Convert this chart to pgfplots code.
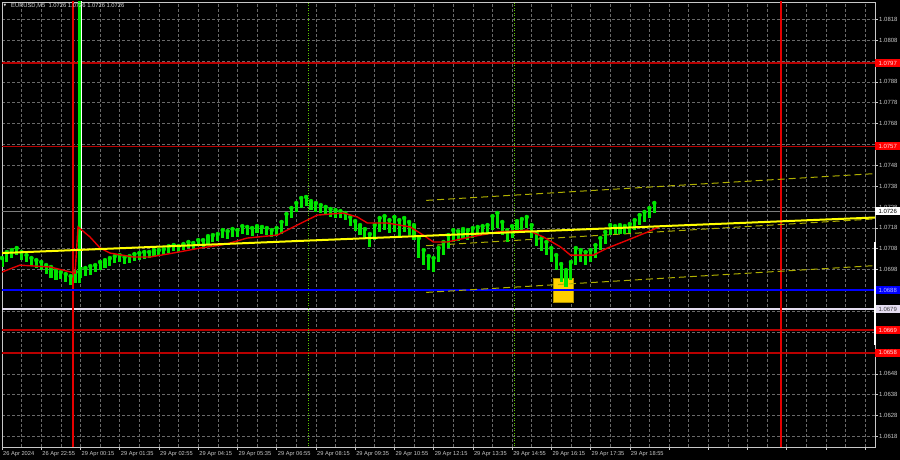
\documentclass[border=0pt]{standalone}
\usepackage{fontspec}
\setmainfont{Liberation Sans}
\newfontfamily\symfont{DejaVu Sans}
\usepackage{pgfplots}
\usepackage{pgfplotstable}
\pgfplotsset{compat=1.18}

\definecolor{candle}{RGB}{0,230,0}
\definecolor{framec}{RGB}{200,200,200}
\definecolor{gridc}{RGB}{105,105,105}
\definecolor{lvlred}{RGB}{185,0,0}
\definecolor{vred}{RGB}{230,0,0}
\definecolor{trend}{RGB}{255,255,0}
\definecolor{chan}{RGB}{175,175,0}
\definecolor{boxy}{RGB}{255,208,0}
\definecolor{lav}{RGB}{228,220,240}
\definecolor{bidgray}{RGB}{125,125,125}
\definecolor{dotgreen}{RGB}{90,200,0}

% M5 bars, every second bar: index, high, low
\pgfplotstableread{
i hi lo
0 1.07035 1.06992
2 1.07064 1.07016
4 1.07073 1.07035
6 1.07083 1.07049
8 1.07064 1.07025
10 1.07049 1.07016
12 1.07035 1.06996
14 1.07025 1.06987
16 1.07016 1.06977
18 1.07001 1.06958
20 1.06992 1.06939
22 1.06977 1.06929
24 1.06968 1.06934
26 1.06958 1.06920
28 1.06948 1.06905
30 1.06968 1.06915
32 1.06987 1.06939
34 1.06987 1.06948
36 1.06996 1.06953
38 1.07001 1.06968
40 1.07016 1.06977
42 1.07025 1.06987
44 1.07035 1.06996
46 1.07044 1.07011
48 1.07049 1.07016
50 1.07040 1.07006
52 1.07044 1.07011
54 1.07054 1.07020
56 1.07059 1.07025
58 1.07064 1.07030
60 1.07064 1.07035
62 1.07073 1.07040
64 1.07073 1.07044
66 1.07078 1.07049
68 1.07092 1.07059
70 1.07097 1.07068
72 1.07092 1.07064
74 1.07102 1.07073
76 1.07112 1.07083
78 1.07107 1.07078
80 1.07121 1.07092
82 1.07121 1.07088
84 1.07140 1.07102
86 1.07145 1.07112
88 1.07150 1.07116
90 1.07169 1.07131
92 1.07164 1.07126
94 1.07174 1.07136
96 1.07169 1.07136
98 1.07188 1.07150
100 1.07184 1.07145
102 1.07179 1.07140
104 1.07188 1.07155
106 1.07184 1.07150
108 1.07179 1.07145
110 1.07169 1.07136
112 1.07179 1.07140
114 1.07208 1.07150
116 1.07246 1.07188
118 1.07275 1.07227
120 1.07299 1.07256
122 1.07323 1.07275
124 1.07328 1.07284
126 1.07308 1.07265
128 1.07299 1.07256
130 1.07289 1.07251
132 1.07280 1.07241
134 1.07270 1.07232
136 1.07265 1.07227
138 1.07260 1.07227
140 1.07251 1.07217
142 1.07232 1.07188
144 1.07212 1.07164
146 1.07193 1.07145
148 1.07174 1.07131
150 1.07150 1.07088
152 1.07193 1.07121
154 1.07227 1.07160
156 1.07236 1.07169
158 1.07217 1.07155
160 1.07232 1.07160
162 1.07217 1.07140
164 1.07227 1.07160
166 1.07208 1.07145
168 1.07193 1.07121
170 1.07131 1.07035
172 1.07073 1.07001
174 1.07044 1.06977
176 1.07035 1.06968
178 1.07083 1.07016
180 1.07112 1.07049
182 1.07145 1.07083
184 1.07169 1.07112
186 1.07164 1.07116
188 1.07174 1.07126
190 1.07169 1.07121
192 1.07179 1.07131
194 1.07184 1.07140
196 1.07188 1.07145
198 1.07193 1.07155
200 1.07236 1.07169
202 1.07251 1.07179
204 1.07208 1.07145
206 1.07169 1.07112
208 1.07188 1.07131
210 1.07212 1.07155
212 1.07222 1.07169
214 1.07232 1.07179
216 1.07193 1.07131
218 1.07155 1.07092
220 1.07131 1.07068
222 1.07112 1.07049
224 1.07083 1.07016
226 1.07049 1.06977
228 1.07006 1.06920
230 1.06977 1.06896
232 1.07016 1.06929
234 1.07083 1.07001
236 1.07073 1.07016
238 1.07064 1.07001
240 1.07073 1.07016
242 1.07097 1.07035
244 1.07131 1.07073
246 1.07160 1.07102
248 1.07193 1.07145
250 1.07188 1.07150
252 1.07193 1.07150
254 1.07188 1.07150
256 1.07198 1.07155
258 1.07217 1.07169
260 1.07241 1.07193
262 1.07256 1.07208
264 1.07275 1.07227
266 1.07299 1.07251
}\candles

% moving average (red)
\pgfplotstableread{
i ma
0 1.06968
7.3 1.07001
19.6 1.06992
29.8 1.06963
31 1.07184
35.9 1.07136
40 1.07083
44 1.07059
53.5 1.07040
60.4 1.07040
69.8 1.07059
80.8 1.07083
89 1.07097
93 1.07107
100 1.07131
112.2 1.07145
116.3 1.07169
122.9 1.07208
128.6 1.07241
139.2 1.07251
144.9 1.07232
149 1.07203
157.1 1.07203
166.5 1.07184
171.8 1.07145
175.9 1.07112
181.6 1.07112
191 1.07136
202 1.07160
214.3 1.07169
220.8 1.07136
227.8 1.07088
231.8 1.07049
241.2 1.07049
246.9 1.07083
255.1 1.07121
263.3 1.07160
267.8 1.07184
}\mavg

\begin{document}
\begin{tikzpicture}
\useasboundingbox (0,0) rectangle (900pt,460pt);
\fill[black] (0,0) rectangle (900pt,460pt);
\begin{axis}[
  at={(2pt,13pt)}, anchor=south west,
  scale only axis, width=873pt, height=445pt,
  xmin=0, xmax=356, ymin=1.061288, ymax=1.082630,
  axis background/.style={fill=black},
  axis line style={framec, line width=0.8pt},
  clip mode=individual,
  xtick={0,16,...,352},
  xticklabels={26 Apr 2024,26 Apr 22:55,29 Apr 00:15,29 Apr 01:35,29 Apr 02:55,29 Apr 04:15,29 Apr 05:35,29 Apr 06:55,29 Apr 08:15,29 Apr 09:35,29 Apr 10:55,29 Apr 12:15,29 Apr 13:35,29 Apr 14:55,29 Apr 16:15,29 Apr 17:35,29 Apr 18:55,{},{},{},{},{},{}},
  minor xtick={8,24,...,344},
  ytick={1.0618,1.0628,1.0638,1.0648,1.0658,1.0668,1.0678,1.0688,1.0698,1.0708,1.0718,1.0728,1.0738,1.0748,1.0758,1.0768,1.0778,1.0788,1.0798,1.0808,1.0818},
  yticklabels={1.0618,1.0628,1.0638,1.0648,{},{},{},{},1.0698,1.0708,1.0718,1.0728,1.0738,1.0748,{},1.0768,1.0778,1.0788,{},1.0808,1.0818},
  grid=both,
  major grid style={gridc, line width=0.5pt, dash pattern=on 2.5pt off 2.5pt},
  minor grid style={gridc, line width=0.5pt, dash pattern=on 2.5pt off 2.5pt},
  tick align=outside, major tick length=3pt, minor tick length=0pt,
  tick style={framec, line width=0.5pt},
  xtick pos=bottom, ytick pos=right, yticklabel pos=right,
  xticklabel style={anchor=north west, inner sep=1pt, text=framec, font=\fontsize{5.7}{6}\selectfont},
  yticklabel style={anchor=west, inner sep=1pt, text=framec, font=\fontsize{6}{6}\selectfont},
]
% horizontal levels
\addplot[lvlred, line width=1.2pt] coordinates {(0,1.0797) (356,1.0797)};
\addplot[lvlred, line width=1.2pt] coordinates {(0,1.0757) (356,1.0757)};
\addplot[lvlred, line width=1.2pt] coordinates {(0,1.0669) (356,1.0669)};
\addplot[lvlred, line width=1.2pt] coordinates {(0,1.0658) (356,1.0658)};
\addplot[lav, line width=1.6pt] coordinates {(0,1.0679) (356,1.0679)};
\addplot[bidgray, line width=1.2pt] coordinates {(0,1.0726) (356,1.0726)};
% vertical lines
\addplot[vred, line width=1.4pt] coordinates {(28.9,1.060) (28.9,1.084)};
\addplot[vred, line width=1.4pt] coordinates {(317.6,1.060) (317.6,1.084)};
\addplot[dotgreen, line width=0.6pt, dash pattern=on 1pt off 1.5pt] coordinates {(125,1.060) (125,1.084)};
\addplot[dotgreen, line width=0.6pt, dash pattern=on 1pt off 1.5pt] coordinates {(209.1,1.060) (209.1,1.084)};
% signal rectangle
\addplot[fill=boxy, draw=boxy!70!black, line width=0.5pt] coordinates {(224.9,1.06939) (233.1,1.06939) (233.1,1.06824) (224.9,1.06824) (224.9,1.06939)};
\addplot[blue, line width=1.8pt] coordinates {(0,1.0688) (356,1.0688)};
% regression channel
\addplot[chan, line width=1pt, dash pattern=on 7pt off 4pt] coordinates {(173,1.073115) (356,1.074400)};
\addplot[chan, line width=1pt, dash pattern=on 7pt off 4pt] coordinates {(173,1.070942) (356,1.072228)};
\addplot[chan, line width=1pt, dash pattern=on 7pt off 4pt] coordinates {(173,1.068702) (356,1.069988)};
% candles as high-low bars
\addplot[candle, only marks, mark=none,
  error bars/.cd, y dir=minus, y explicit, error mark=none,
  error bar style={candle, line width=3.1pt}]
  table[x=i, y=hi, y error minus expr=\thisrow{hi}-\thisrow{lo}] {\candles};
% opening spike
\addplot[candle, line width=2.6pt] coordinates {(31.5,1.06915) (31.5,1.0840)};
\addplot[white, line width=0.7pt] coordinates {(32.5,1.06990) (32.5,1.0840)};
% moving average
\addplot[vred, line width=1.4pt] table[x=i, y=ma] {\mavg};
% trend line
\addplot[trend, line width=2pt] coordinates {(0,1.07059) (356,1.072295)};
% price labels on the scale
\tikzset{lbl/.style={anchor=west, inner sep=0.6pt, minimum width=25pt, minimum height=8pt, font=\fontsize{6}{6}\selectfont}}
\node[lbl, fill=red, text={rgb,255:red,255;green,225;blue,225}] at (axis cs:356,1.0797) {1.0797};
\node[lbl, fill=red, text={rgb,255:red,255;green,225;blue,225}] at (axis cs:356,1.0757) {1.0757};
\node[lbl, fill=red, text={rgb,255:red,255;green,225;blue,225}] at (axis cs:356,1.0669) {1.0669};
\node[lbl, fill=red, text={rgb,255:red,255;green,225;blue,225}] at (axis cs:356,1.0658) {1.0658};
\node[lbl, fill=blue, text={rgb,255:red,190;green,190;blue,255}] at (axis cs:356,1.0688) {1.0688};
\node[lbl, fill=lav, text=black!75] at (axis cs:356,1.0679) {1.0679};
\node[lbl, fill=white, text=black] at (axis cs:356,1.0726) {1.0726};
\draw[white, line width=1.6pt] (axis cs:356,1.07112) -- (axis cs:356,1.06618);
\end{axis}
\node[anchor=west, inner sep=0pt, text={rgb,255:red,215;green,215;blue,215}, font=\fontsize{3.5}{4}\symfont] at (3.5pt,454pt) {▼};
\node[anchor=west, inner sep=0pt, text={rgb,255:red,215;green,215;blue,215}, font=\fontsize{5.8}{6}\selectfont] at (11pt,454pt) {EURUSD,M5\ \ 1.0726 1.0726 1.0726 1.0726};
\end{tikzpicture}
\end{document}
